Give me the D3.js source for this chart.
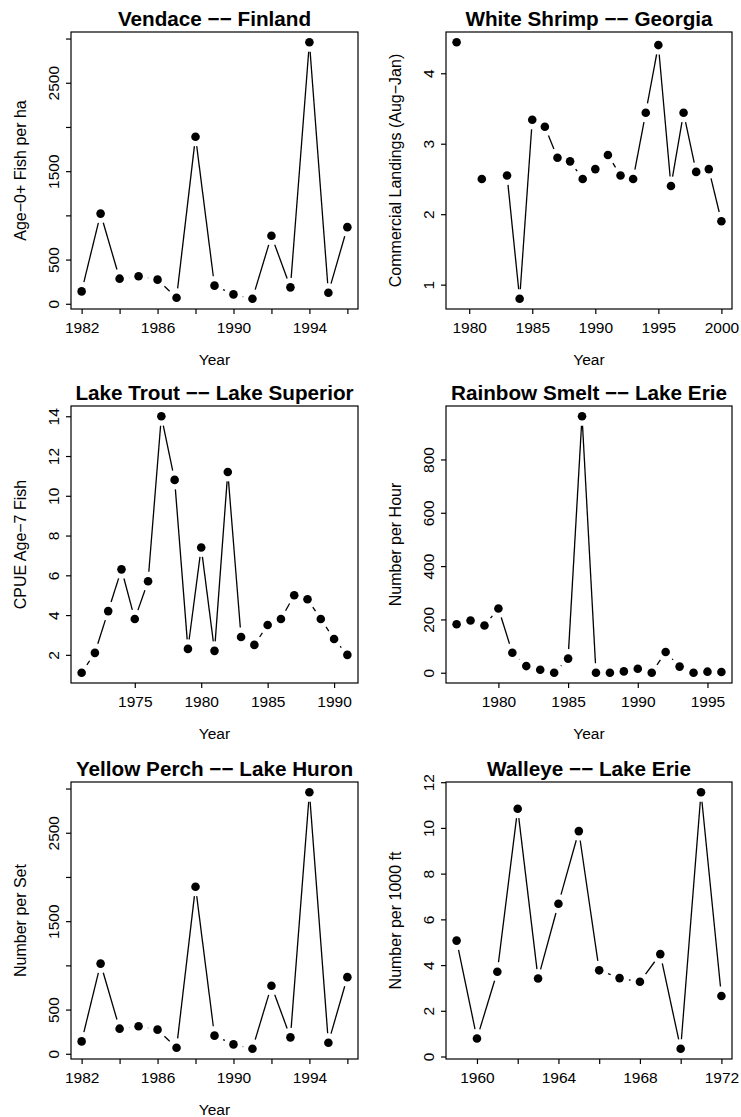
<!DOCTYPE html>
<html>
<head>
<meta charset="utf-8">
<script src="https://cdn.jsdelivr.net/npm/d3@7/dist/d3.min.js"></script>
<style>
  body { margin: 0; background: #fff; }
  text { font-family: "Liberation Sans", Arial, Helvetica, sans-serif; fill: #000; }
</style>
</head>
<body>
<div id="chart"></div>
<script>
///////////////////////////////////////////////////////////////////////////
//////////////////////////////// The data /////////////////////////////////
///////////////////////////////////////////////////////////////////////////

var vendaceYears = [1982, 1983, 1984, 1985, 1986, 1987, 1988, 1989, 1990, 1991, 1992, 1993, 1994, 1995, 1996]
var vendaceValues = [140, 1020, 284, 311, 273, 68, 1890, 205, 106, 57, 769, 186, 2958, 125, 867]

var shrimpYears = [1979, 1980, 1981, 1982, 1983, 1984, 1985, 1986, 1987, 1988, 1989,
	1990, 1991, 1992, 1993, 1994, 1995, 1996, 1997, 1998, 1999, 2000]
var shrimpValues = [4.44, null, 2.50, null, 2.55, 0.80, 3.34, 3.24, 2.80, 2.75, 2.50,
	2.64, 2.84, 2.55, 2.50, 3.44, 4.40, 2.40, 3.44, 2.60, 2.64, 1.90]

var troutYears = [1971, 1972, 1973, 1974, 1975, 1976, 1977, 1978, 1979, 1980, 1981,
	1982, 1983, 1984, 1985, 1986, 1987, 1988, 1989, 1990, 1991]
var troutValues = [1.1, 2.1, 4.2, 6.3, 3.8, 5.7, 14.0, 10.8, 2.3, 7.4, 2.2,
	11.2, 2.9, 2.5, 3.5, 3.8, 5.0, 4.8, 3.8, 2.8, 2.0]

var smeltYears = [1977, 1978, 1979, 1980, 1981, 1982, 1983, 1984, 1985, 1986,
	1987, 1988, 1989, 1990, 1991, 1992, 1993, 1994, 1995, 1996]
var smeltValues = [182, 196, 177, 241, 75, 25, 11, 0, 53, 962,
	0, 0, 5, 15, 0, 78, 23, 0, 4, 3]

var perchYears = [1982, 1983, 1984, 1985, 1986, 1987, 1988, 1989, 1990, 1991, 1992, 1993, 1994, 1995, 1996]
var perchValues = [140, 1020, 284, 311, 273, 68, 1890, 205, 106, 57, 769, 186, 2958, 125, 867]

var walleyeYears = [1959, 1960, 1961, 1962, 1963, 1964, 1965, 1966, 1967, 1968, 1969, 1970, 1971, 1972]
var walleyeValues = [5.07, 0.79, 3.71, 10.84, 3.41, 6.68, 9.86, 3.77, 3.43, 3.27, 4.48, 0.34, 11.56, 2.65]

//Tick marks and the labels that R kept
var countTicks = [0, 500, 1000, 1500, 2000, 2500, 3000]
var countTickLabels = [0, 500, 1500, 2500]
var year82Ticks = [1982, 1984, 1986, 1988, 1990, 1992, 1994, 1996]
var year82TickLabels = [1982, 1986, 1990, 1994]
var shrimpYTicks = [1, 2, 3, 4]
var shrimpXTicks = [1980, 1985, 1990, 1995, 2000]
var troutYTicks = [2, 4, 6, 8, 10, 12, 14]
var troutXTicks = [1975, 1980, 1985, 1990]
var smeltYTicks = [0, 200, 400, 600, 800]
var smeltXTicks = [1980, 1985, 1990, 1995]
var walleyeYTicks = [0, 2, 4, 6, 8, 10, 12]
var walleyeXTicks = [1960, 1962, 1964, 1966, 1968, 1970, 1972]
var walleyeXTickLabels = [1960, 1964, 1968, 1972]

var titles = ["Vendace −− Finland", "White Shrimp −− Georgia", "Lake Trout −− Lake Superior",
	"Rainbow Smelt −− Lake Erie", "Yellow Perch −− Lake Huron", "Walleye −− Lake Erie"]
var yLabels = ["Age−0+ Fish per ha", "Commercial Landings (Aug−Jan)", "CPUE Age−7 Fish",
	"Number per Hour", "Number per Set", "Number per 1000 ft"]
var xLabels = ["Year", "Year", "Year", "Year", "Year", ""]

createPanels()

function createPanels() {

	///////////////////////////////////////////////////////////////////////////
	//////////////////////////// Set up the canvas ////////////////////////////
	///////////////////////////////////////////////////////////////////////////

	var width = 741
	var height = 1117

	var svg = d3.select("#chart").append("svg")
		.attr("width", width)
		.attr("height", height)

	var colLeft = [71, 446],
		colWidth = [287, 286],
		rowTop = [32, 406, 782],
		boxHeight = 277

	var panels = [
		{ years: vendaceYears, values: vendaceValues, yTicks: countTicks, yShow: countTickLabels, xTicks: year82Ticks, xShow: year82TickLabels },
		{ years: shrimpYears, values: shrimpValues, yTicks: shrimpYTicks, yShow: shrimpYTicks, xTicks: shrimpXTicks, xShow: shrimpXTicks },
		{ years: troutYears, values: troutValues, yTicks: troutYTicks, yShow: troutYTicks, xTicks: troutXTicks, xShow: troutXTicks },
		{ years: smeltYears, values: smeltValues, yTicks: smeltYTicks, yShow: smeltYTicks, xTicks: smeltXTicks, xShow: smeltXTicks },
		{ years: perchYears, values: perchValues, yTicks: countTicks, yShow: countTickLabels, xTicks: year82Ticks, xShow: year82TickLabels },
		{ years: walleyeYears, values: walleyeValues, yTicks: walleyeYTicks, yShow: walleyeYTicks, xTicks: walleyeXTicks, xShow: walleyeXTickLabels }
	]

	panels.forEach(function(p, i) {
		p.title = titles[i]
		p.ylab = yLabels[i]
		p.xlab = xLabels[i]
		drawPanel(p, colLeft[i % 2], rowTop[Math.floor(i / 2)], colWidth[i % 2], boxHeight)
	})

	///////////////////////////////////////////////////////////////////////////
	///////////////////////////// One base-R panel ////////////////////////////
	///////////////////////////////////////////////////////////////////////////

	//R pads the data range by 4% on each side
	function padded(ext) {
		var d = (ext[1] - ext[0]) * 0.04
		return [ext[0] - d, ext[1] + d]
	}

	function drawPanel(p, left, top, w, h) {

		var data = p.years.map(function(y, i) { return { year: y, value: p.values[i] } })
		var valid = data.filter(function(d) { return d.value !== null })

		var xScale = d3.scaleLinear()
			.domain(padded(d3.extent(valid, d => d.year)))
			.range([0, w])

		var yScale = d3.scaleLinear()
			.domain(padded(d3.extent(valid, d => d.value)))
			.range([h, 0])

		var g = svg.append("g").attr("transform", `translate(${left},${top})`)

		//Title
		g.append("text")
			.attr("x", w / 2)
			.attr("y", -6)
			.attr("text-anchor", "middle")
			.style("font-size", "20.7px")
			.style("font-weight", "bold")
			.text(p.title)

		//Axes
		var xAxis = g.append("g")
			.attr("transform", `translate(0,${h})`)
			.call(d3.axisBottom(xScale)
				.tickValues(p.xTicks)
				.tickSize(5)
				.tickFormat(d => p.xShow.indexOf(d) > -1 ? d : ""))
		xAxis.select(".domain").remove()
		xAxis.selectAll("line").attr("stroke", "#000").attr("stroke-width", 1.2)
		xAxis.selectAll("text")
			.attr("y", 24)
			.attr("dy", null)
			.attr("font-family", null)
			.attr("font-size", null)
			.style("font-size", "15.5px")

		var yAxis = g.append("g")
			.call(d3.axisLeft(yScale)
				.tickValues(p.yTicks)
				.tickSize(5)
				.tickFormat(d => p.yShow.indexOf(d) > -1 ? d : ""))
		yAxis.select(".domain").remove()
		yAxis.selectAll("line").attr("stroke", "#000").attr("stroke-width", 1.2)
		yAxis.selectAll("text")
			.attr("x", null)
			.attr("dy", null)
			.attr("text-anchor", "middle")
			.attr("transform", "translate(-12,0) rotate(-90)")
			.attr("font-family", null)
			.attr("font-size", null)
			.style("font-size", "15.5px")

		//Axis titles
		if (p.xlab) {
			g.append("text")
				.attr("x", w / 2)
				.attr("y", h + 56)
				.attr("text-anchor", "middle")
				.style("font-size", "15.5px")
				.text(p.xlab)
		}

		g.append("text")
			.attr("transform", `translate(-45,${h / 2}) rotate(-90)`)
			.attr("text-anchor", "middle")
			.style("font-size", "16px")
			.text(p.ylab)

		//Box round the plot
		g.append("rect")
			.attr("width", w)
			.attr("height", h)
			.attr("fill", "none")
			.attr("stroke", "#000")
			.attr("stroke-width", 1.2)

		//type = "b": segments stop short of each point
		var gap = 9.5
		var segs = []
		for (var i = 1; i < data.length; i++) {
			var a = data[i - 1], b = data[i]
			if (a.value === null || b.value === null) continue
			var x1 = xScale(a.year), y1 = yScale(a.value),
				x2 = xScale(b.year), y2 = yScale(b.value)
			var dist = Math.hypot(x2 - x1, y2 - y1)
			if (dist <= 2 * gap) continue
			var ux = (x2 - x1) / dist, uy = (y2 - y1) / dist
			segs.push([x1 + ux * gap, y1 + uy * gap, x2 - ux * gap, y2 - uy * gap])
		}

		g.selectAll(".seg")
			.data(segs)
			.enter()
			.append("line")
			.attr("x1", d => d[0])
			.attr("y1", d => d[1])
			.attr("x2", d => d[2])
			.attr("y2", d => d[3])
			.attr("stroke", "#000")
			.attr("stroke-width", 1.3)

		g.selectAll("circle")
			.data(valid)
			.enter()
			.append("circle")
			.attr("cx", d => xScale(d.year))
			.attr("cy", d => yScale(d.value))
			.attr("r", 4.3)
			.style("fill", "#000")

	}//function drawPanel

}//function createPanels
</script>
</body>
</html>
